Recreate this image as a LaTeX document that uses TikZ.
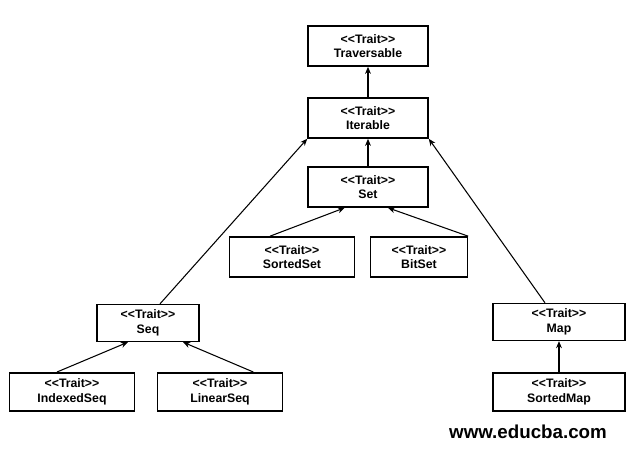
\documentclass[tikz,border=0pt]{standalone}
\usepackage{fontspec}
\setmainfont{Liberation Sans}
\usetikzlibrary{arrows.meta,positioning}

\begin{document}
\begin{tikzpicture}[
        x=0.03cm, y=-0.03cm,
        trait/.style={rectangle, draw, line width=1.4pt, minimum width=3.6cm, minimum height=1.2cm, fill=white, align=center, font=\fontsize{10.5}{12.5}\selectfont\bfseries, inner sep=1pt},
        inh/.style={-{Stealth[length=6pt,width=5pt]}, line width=0.9pt},
    ]
        \useasboundingbox (0,0) rectangle (632,449);

        % Top of the hierarchy
        \node[trait] (TRAV) at (368, 46) {<{}<Trait>{}>\\Traversable};
        \node[trait] (ITER) at (368, 118) {<{}<Trait>{}>\\Iterable};
        \node[trait] (SET) at (368, 187) {<{}<Trait>{}>\\Set};

        % Set children
        \node[trait, minimum width=3.75cm] (SSET) at (292, 257) {<{}<Trait>{}>\\SortedSet};
        \node[trait, minimum width=2.9cm] (BSET) at (419, 257) {<{}<Trait>{}>\\BitSet};

        % Seq branch (left)
        \node[trait, minimum width=3.05cm, minimum height=1.1cm] (SEQ) at (148, 323) {<{}<Trait>{}>\\Seq};
        \node[trait, minimum width=3.75cm, minimum height=1.15cm] (ISEQ) at (72, 392) {<{}<Trait>{}>\\IndexedSeq};
        \node[trait, minimum width=3.75cm, minimum height=1.15cm] (LSEQ) at (220, 392) {<{}<Trait>{}>\\LinearSeq};

        % Map branch (right)
        \node[trait, minimum width=3.95cm, minimum height=1.1cm] (MAP) at (559, 322) {<{}<Trait>{}>\\Map};
        \node[trait, minimum width=3.95cm, minimum height=1.15cm] (SMAP) at (559, 392) {<{}<Trait>{}>\\SortedMap};

        % Inheritance arrows
        \draw[inh] (ITER) -- (TRAV);
        \draw[inh] (SET) -- (ITER);
        \draw[inh] ([xshift=-0.66cm]SSET.north) -- ([xshift=-0.7cm]SET.south);
        \draw[inh] (BSET.north east) -- ([xshift=0.6cm]SET.south);
        \draw[inh] ([xshift=0.36cm]SEQ.north) -- (ITER.south west);
        \draw[inh] ([xshift=-0.42cm]MAP.north) -- (ITER.south east);
        \draw[inh] ([xshift=-0.45cm]ISEQ.north) -- ([xshift=-0.6cm]SEQ.south);
        \draw[inh] ([xshift=1cm]LSEQ.north) -- ([xshift=1.05cm]SEQ.south);
        \draw[inh] (SMAP) -- (MAP);

        % Watermark
        \node[font=\fontsize{16}{18}\selectfont\bfseries] (WEB) at (528, 432) {www.educba.com};
    \end{tikzpicture}
\end{document}
